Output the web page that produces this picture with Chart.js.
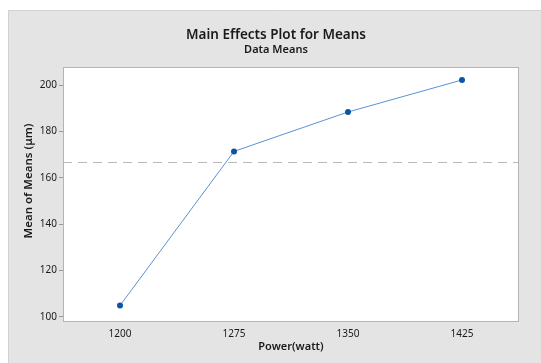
<!DOCTYPE html>
<html>
<head>
<meta charset="utf-8">
<script src="https://cdn.jsdelivr.net/npm/chart.js@4/dist/chart.umd.min.js"></script>
<style>
  html, body { margin: 0; padding: 0; background: #ffffff; }
  #wrap { width: 541px; height: 363px; position: relative; }
</style>
</head>
<body>
<div id="wrap"><canvas id="c" width="541" height="363"></canvas></div>
<script>
// Power levels (factor) and the mean response at each level
const powerLevels = ['1200', '1275', '1350', '1425'];
const meanValues = [104.9, 171.4, 188.4, 202.2];
// Overall mean of the data (reference line)
const grandMean = 166.7;
const yTicks = [100, 120, 140, 160, 180, 200];

const FONT = '"Noto Sans", "Open Sans", sans-serif';

// Grey panel behind the chart, titles, plot frame and grand-mean line
const decor = {
  id: 'decor',
  beforeDraw(chart) {
    const ctx = chart.ctx;
    ctx.save();
    ctx.fillStyle = '#ffffff';
    ctx.fillRect(0, 0, chart.width, chart.height);
    ctx.fillStyle = '#e4e4e4';
    ctx.fillRect(8, 10, chart.width - 8, chart.height - 10);
    ctx.strokeStyle = '#d2d2d2';
    ctx.lineWidth = 1;
    ctx.beginPath();
    ctx.moveTo(8.5, chart.height);
    ctx.lineTo(8.5, 10.5);
    ctx.lineTo(chart.width, 10.5);
    ctx.stroke();
    const a = chart.chartArea;
    ctx.fillStyle = '#ffffff';
    ctx.fillRect(a.left, a.top, a.right - a.left, a.bottom - a.top);
    // titles
    ctx.fillStyle = '#1a1a1a';
    ctx.textAlign = 'center';
    ctx.textBaseline = 'middle';
    ctx.font = '600 13.5px ' + FONT;
    ctx.fillText('Main Effects Plot for Means', 276, 35);
    ctx.font = '600 11px ' + FONT;
    ctx.fillText('Data Means', 276, 50);
    // axis titles
    ctx.fillText('Power(watt)', (a.left + a.right) / 2, 347);
    ctx.font = '600 11.5px ' + FONT;
    ctx.translate(29, 181);
    ctx.rotate(-Math.PI / 2);
    ctx.fillText('Mean of Means (μm)', 0, 0);
    ctx.restore();
  },
  beforeDatasetsDraw(chart) {
    const ctx = chart.ctx;
    const a = chart.chartArea;
    const y = Math.round(chart.scales.y.getPixelForValue(grandMean)) + 0.5;
    ctx.save();
    ctx.strokeStyle = '#b9b9b9';
    ctx.lineWidth = 1;
    ctx.setLineDash([9, 6]);
    ctx.beginPath();
    ctx.moveTo(a.left, y);
    ctx.lineTo(a.right, y);
    ctx.stroke();
    ctx.setLineDash([]);
    ctx.strokeStyle = '#b4b4b4';
    ctx.strokeRect(a.left + 0.5, a.top + 0.5, a.right - a.left - 1, a.bottom - a.top - 1);
    ctx.restore();
  }
};

new Chart(document.getElementById('c'), {
  type: 'line',
  data: {
    labels: powerLevels,
    datasets: [{
      data: meanValues,
      borderColor: '#5a93d2',
      borderWidth: 1,
      pointBackgroundColor: '#0b55a6',
      pointBorderColor: '#0b55a6',
      pointRadius: 3,
      pointBorderWidth: 0,
      tension: 0
    }]
  },
  options: {
    responsive: false,
    animation: false,
    devicePixelRatio: 1,
    layout: { padding: { top: 67, right: 22, left: 0, bottom: 0 } },
    plugins: {
      legend: { display: false },
      tooltip: { enabled: false },
      title: { display: false }
    },
    scales: {
      x: {
        type: 'category',
        offset: true,
        grid: { display: false, drawOnChartArea: false, drawTicks: true, tickLength: 4, color: '#9a9a9a', offset: false },
        border: { display: false },
        ticks: { color: '#1a1a1a', font: { family: FONT, size: 10 }, padding: 2, maxRotation: 0 },
        afterFit(s) { s.height = 41; }
      },
      y: {
        min: 97.8,
        max: 207.8,
        afterBuildTicks(s) { s.ticks = yTicks.map(v => ({ value: v })); },
        grid: { display: true, drawOnChartArea: false, drawTicks: true, tickLength: 4, color: '#9a9a9a' },
        border: { display: false },
        ticks: { color: '#1a1a1a', font: { family: FONT, size: 10 }, padding: 2 },
        afterFit(s) { s.width = 63; }
      }
    }
  },
  plugins: [decor]
});
</script>
</body>
</html>
